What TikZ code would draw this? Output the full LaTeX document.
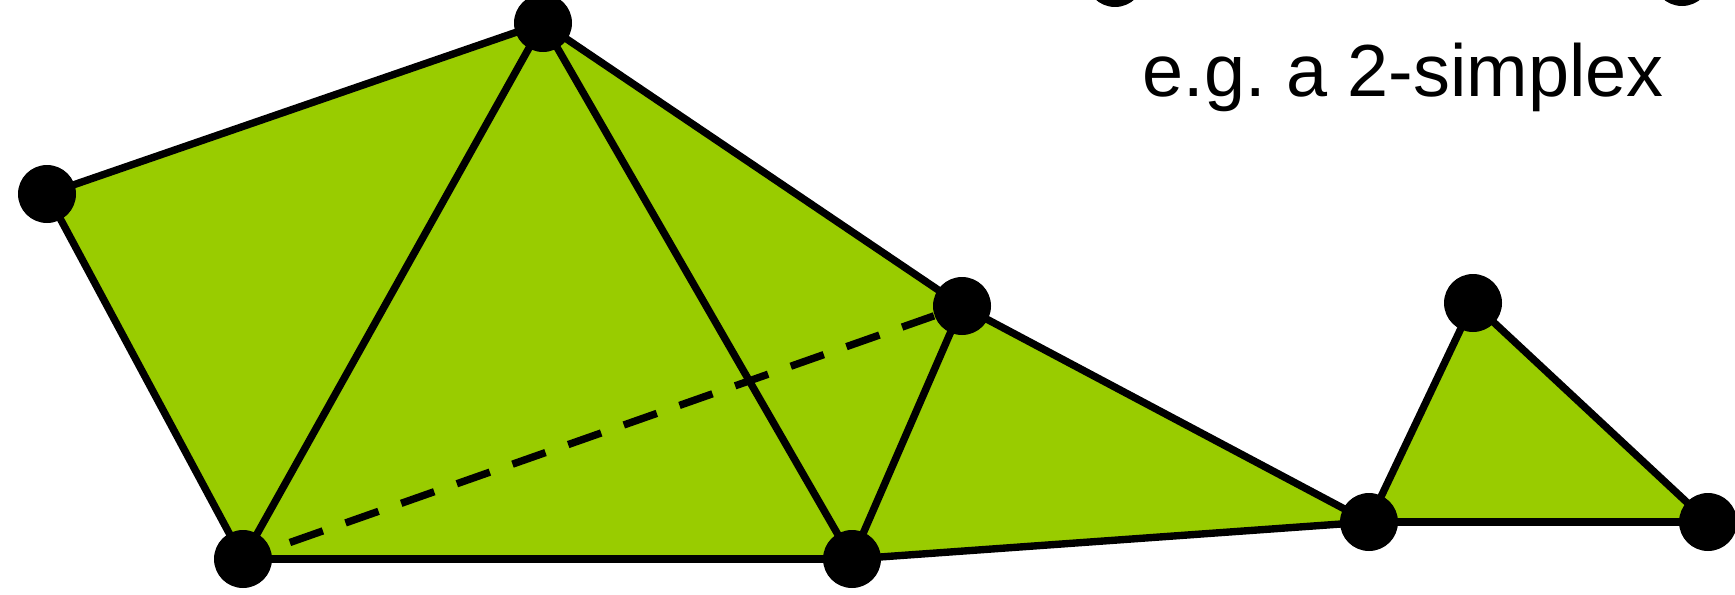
\documentclass[tikz,border=0pt]{standalone}
\usepackage{fontspec}
\setmainfont{Liberation Sans}
\usetikzlibrary{backgrounds}
\definecolor{simplexgreen}{HTML}{99CC00}

\begin{document}
\begin{tikzpicture}[
    vertex/.style={circle, fill=black, inner sep=0pt, minimum size=0.58cm},
    edge/.style={line width=2.1pt, black},
    hidden/.style={edge, dash pattern=on 0.35cm off 0.24cm}]
    \useasboundingbox (0,0) rectangle (17.35,5.94);
    \clip (0,0) rectangle (17.35,5.94);

    % vertices
    \node[vertex] (a) at (0.47,4.00) {};
    \node[vertex] (b) at (5.43,5.71) {};
    \node[vertex] (c) at (2.43,0.35) {};
    \node[vertex] (d) at (9.62,2.88) {};
    \node[vertex] (e) at (8.52,0.35) {};
    \node[vertex] (f) at (13.69,0.72) {};
    \node[vertex] (g) at (14.73,2.91) {};
    \node[vertex] (h) at (17.08,0.72) {};
    % cut-off vertices at the top edge
    \node[vertex] (top1) at (11.15,6.16) {};
    \node[vertex] (top2) at (16.82,6.17) {};

    % filled faces and edges, under the vertices
    \begin{scope}[on background layer]
        \fill[simplexgreen] (a.center) -- (b.center) -- (d.center) -- (f.center)
            -- (e.center) -- (c.center) -- cycle;
        \fill[simplexgreen] (f.center) -- (g.center) -- (h.center) -- cycle;

        \draw[edge] (a.center) -- (b.center);
        \draw[edge] (a.center) -- (c.center);
        \draw[edge] (b.center) -- (c.center);
        \draw[edge] (b.center) -- (e.center);
        \draw[edge] (b.center) -- (d.center);
        \draw[edge] (c.center) -- (e.center);
        \draw[edge] (d.center) -- (e.center);
        \draw[edge] (d.center) -- (f.center);
        \draw[edge] (e.center) -- (f.center);
        \draw[edge] (f.center) -- (g.center);
        \draw[edge] (g.center) -- (h.center);
        \draw[edge] (f.center) -- (h.center);
        \draw[hidden, shorten <=0.2cm] (c) -- (d);
    \end{scope}

    \node[anchor=base west, inner sep=0pt, font=\fontsize{21}{25}\selectfont]
        (label) at (11.42,4.97) {e.g.\ a 2-simplex};
\end{tikzpicture}
\end{document}
